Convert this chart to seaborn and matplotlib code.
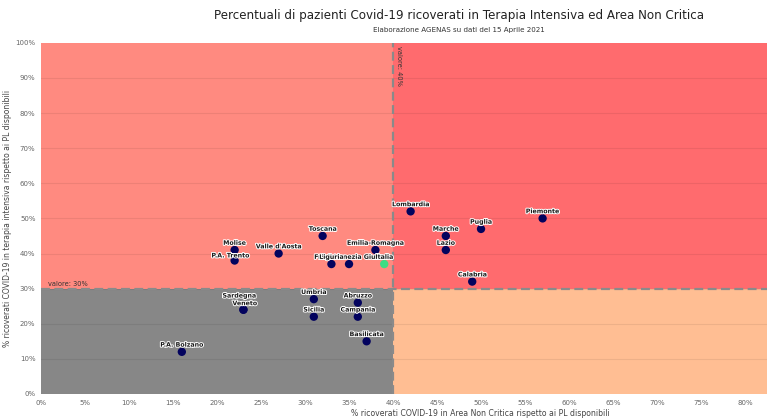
import matplotlib
matplotlib.use("Agg")
import matplotlib.pyplot as plt
import matplotlib.patheffects as pe
from matplotlib.ticker import MultipleLocator, FuncFormatter
import seaborn as sns
import pandas as pd

# --- DATA ---
regioni = ["Piemonte", "Lombardia", "Puglia", "Marche", "Lazio", "Calabria",
           "Toscana", "Molise", "P.A. Trento", "Valle d'Aosta", "Emilia-Romagna",
           "Friuli Venezia Giulia", "Liguria", "Italia", "Umbria", "Abruzzo",
           "Sicilia", "Campania", "Sardegna", "Veneto", "Basilicata", "P.A. Bolzano"]
area_non_critica = [57, 42, 50, 46, 46, 49, 32, 22, 22, 27, 38, 35, 33, 39,
                    31, 36, 31, 36, 23, 23, 37, 16]
terapia_intensiva = [50, 52, 47, 45, 41, 32, 45, 41, 38, 40, 41, 37, 37, 37,
                     27, 26, 22, 22, 24, 24, 15, 12]
soglia_x = 40
soglia_y = 30

df = pd.DataFrame({"regione": regioni, "x": area_non_critica, "y": terapia_intensiva})
df["tipo"] = ["Italia" if r == "Italia" else "Regione" for r in regioni]

# label offsets (points) to mimic the reference placement
offsets = {"Sardegna": (-3, 8), "Veneto": (1, 2.5), "Molise": (0, 3),
           "P.A. Trento": (-3, 1.5)}

fig = plt.figure(figsize=(7.67, 4.20), dpi=100)
ax = fig.add_axes([0.0535, 0.062, 0.9465, 0.836])

XMAX, YMAX = 82.5, 100
# quadrant backgrounds
ax.axvspan(0, soglia_x, ymin=soglia_y / YMAX, ymax=1, color="#ff8a80", zorder=0, lw=0)
ax.axvspan(soglia_x, XMAX, ymin=soglia_y / YMAX, ymax=1, color="#ff6b6e", zorder=0, lw=0)
ax.axvspan(0, soglia_x, ymin=0, ymax=soglia_y / YMAX, color="#878787", zorder=0, lw=0)
ax.axvspan(soglia_x, XMAX, ymin=0, ymax=soglia_y / YMAX, color="#ffbe93", zorder=0, lw=0)

for yy in range(10, 100, 10):
    ax.axhline(yy, color="#000000", alpha=0.07, lw=0.8, zorder=1)

ax.axvline(soglia_x, color="#8a8a8a", ls=(0, (4, 2)), lw=1.6, zorder=2)
ax.axhline(soglia_y, color="#8a8a8a", ls=(0, (4, 2)), lw=1.6, zorder=2)
ax.text(soglia_x + 0.3, 99, "valore: 40%", rotation=-90, fontsize=4.8,
        color="#333333", va="top", ha="left", zorder=3)
ax.text(0.8, soglia_y + 0.6, "valore: 30%", fontsize=4.8, color="#333333",
        va="bottom", ha="left", zorder=3)

sns.scatterplot(data=df, x="x", y="y", hue="tipo",
                palette={"Regione": "#03035e", "Italia": "#3ddc84"},
                s=36, edgecolor="none", legend=False, ax=ax, zorder=4)

for r, x, y in zip(regioni, area_non_critica, terapia_intensiva):
    dx, dy = offsets.get(r, (0, 3))
    ax.annotate(r, (x, y), xytext=(dx, dy), textcoords="offset points",
                ha="center", va="bottom", fontsize=4.5, color="#1a1a1a",
                fontweight="bold", zorder=5,
                path_effects=[pe.withStroke(linewidth=1.4, foreground="white")])

ax.set_xlim(0, XMAX)
ax.set_ylim(0, YMAX)
ax.xaxis.set_major_locator(MultipleLocator(5))
ax.yaxis.set_major_locator(MultipleLocator(10))
pct = FuncFormatter(lambda v, p: f"{v:.0f}%")
ax.xaxis.set_major_formatter(pct)
ax.yaxis.set_major_formatter(pct)
ax.tick_params(labelsize=5.0, colors="#666666", length=0, pad=4)
for s in ax.spines.values():
    s.set_visible(False)

ax.set_xlabel("% ricoverati COVID-19 in Area Non Critica rispetto ai PL disponibili",
              fontsize=5.6, color="#444444")
ax.xaxis.set_label_coords(0.605, -0.044)
ax.set_ylabel("% ricoverati COVID-19 in terapia intensiva rispetto ai PL disponibili",
              fontsize=5.5, color="#444444")
ax.yaxis.set_label_coords(-0.040, 0.5)

fig.text(0.598, 0.962, "Percentuali di pazienti Covid-19 ricoverati in Terapia Intensiva ed Area Non Critica",
         ha="center", va="center", fontsize=8.6, color="#222222")
fig.text(0.598, 0.928, "Elaborazione AGENAS su dati del 15 Aprile 2021",
         ha="center", va="center", fontsize=5.1, color="#333333")

fig.savefig("out.png", dpi=100)
